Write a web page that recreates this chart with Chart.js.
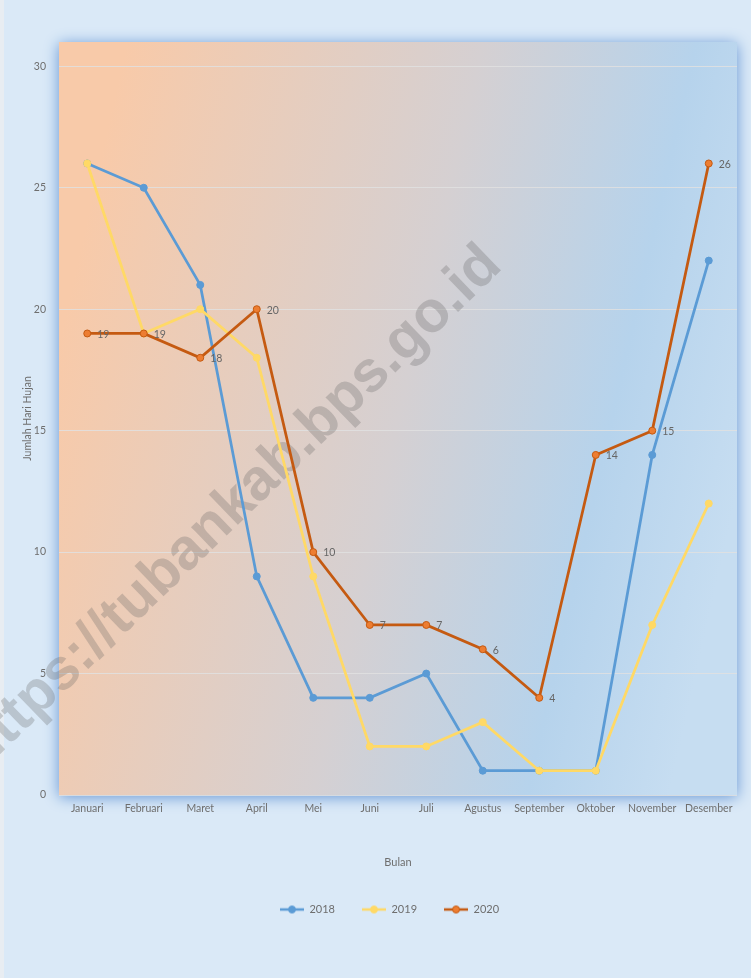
<!DOCTYPE html>
<html>
<head>
<meta charset="utf-8">
<script src="https://cdn.jsdelivr.net/npm/chart.js@4.4.1/dist/chart.umd.min.js"></script>
<style>
html,body{margin:0;padding:0;background:#d9e8f7;}
#wrap{width:751px;height:978px;position:relative;}
canvas{display:block;}
</style>
</head>
<body>
<div id="wrap"><canvas id="c" width="751" height="978"></canvas></div>
<script>
// ---- data ----
const months = ['Januari','Februari','Maret','April','Mei','Juni','Juli','Agustus','September','Oktober','November','Desember'];
const rain2018 = [26,25,21,9,4,4,5,1,1,1,14,22];
const rain2019 = [26,19,20,18,9,2,2,3,1,1,7,12];
const rain2020 = [19,19,18,20,10,7,7,6,4,14,15,26];
const seriesNames = ['2018','2019','2020'];
const yTicks = [0,5,10,15,20,25,30];
const xTitle = 'Bulan';
const yTitle = 'Jumlah Hari Hujan';
const watermark = 'https://tubankab.bps.go.id';

const FONT = 'Lato, "Open Sans", sans-serif';
const TXT = '#6e6e6e';

function makeIcon(lineColor, fill, border){
  const cv = document.createElement('canvas');
  cv.width = 24; cv.height = 10;
  const g = cv.getContext('2d');
  g.strokeStyle = lineColor; g.lineWidth = 2.5;
  g.beginPath(); g.moveTo(0,5); g.lineTo(24,5); g.stroke();
  g.fillStyle = fill; g.strokeStyle = border; g.lineWidth = 1;
  g.beginPath(); g.arc(12,5,3.5,0,Math.PI*2); g.fill(); g.stroke();
  return cv;
}
const icons = [
  makeIcon('#5b9bd5','#5b9bd5','#5b9bd5'),
  makeIcon('#ffd966','#ffd966','#ffd966'),
  makeIcon('#c55a11','#ed7d31','#c55a11')
];

const bgPlugin = {
  id: 'bg',
  beforeDraw(chart){
    const {ctx, chartArea: a, width, height} = chart;
    // shift the legend block to the right, as in the original
    if (chart.legend && !chart.legend._shifted) {
      chart.legend.left += 21; chart.legend.right += 21;
      chart.legend._shifted = true;
    }
    ctx.save();
    ctx.fillStyle = '#dae9f7';
    ctx.fillRect(0,0,width,height);
    ctx.fillStyle = '#e8edf2';
    ctx.fillRect(0,0,4,height);
    // plot box
    const g = ctx.createLinearGradient(a.left, a.top + 300, a.right, a.bottom - 300);
    g.addColorStop(0, '#f8caa9');
    g.addColorStop(0.5, '#d5d0d2');
    g.addColorStop(0.8, '#b6d3ec');
    g.addColorStop(1, '#c6ddf1');
    ctx.shadowColor = 'rgba(60,120,200,0.75)';
    ctx.shadowBlur = 14;
    ctx.shadowOffsetY = 2;
    ctx.fillStyle = g;
    ctx.fillRect(a.left, a.top, a.right - a.left, a.bottom - a.top);
    ctx.restore();
  },
  beforeDatasetsDraw(chart){
    const ctx = chart.ctx;
    ctx.save();
    ctx.translate(232, 508);
    ctx.rotate(-44 * Math.PI / 180);
    ctx.font = 'bold 58px "Liberation Sans", Arial, sans-serif';
    ctx.textAlign = 'center';
    ctx.textBaseline = 'middle';
    ctx.fillStyle = 'rgba(95,95,95,0.27)';
    ctx.fillText(watermark, 0, 0);
    ctx.restore();
  },
  afterDatasetsDraw(chart){
    const ctx = chart.ctx;
    const meta = chart.getDatasetMeta(2);
    ctx.save();
    ctx.font = '10.5px ' + FONT;
    ctx.fillStyle = '#666666';
    ctx.textAlign = 'left';
    ctx.textBaseline = 'middle';
    meta.data.forEach((pt, i) => {
      ctx.fillText(String(rain2020[i]), pt.x + 10, pt.y + 1);
    });
    ctx.restore();
  }
};

new Chart(document.getElementById('c'), {
  type: 'line',
  data: {
    labels: months,
    datasets: [
      {label: seriesNames[0], data: rain2018, borderColor:'#5b9bd5', backgroundColor:'#5b9bd5', pointBackgroundColor:'#5b9bd5', pointBorderColor:'#5b9bd5', borderWidth:2.75, pointRadius:3.5, pointBorderWidth:1, tension:0, order:3},
      {label: seriesNames[1], data: rain2019, borderColor:'#ffd966', backgroundColor:'#ffd966', pointBackgroundColor:'#ffd966', pointBorderColor:'#ffd966', borderWidth:2.75, pointRadius:3.5, pointBorderWidth:1, tension:0, order:2},
      {label: seriesNames[2], data: rain2020, borderColor:'#c55a11', backgroundColor:'#ed7d31', pointBackgroundColor:'#ed7d31', pointBorderColor:'#c55a11', borderWidth:2.75, pointRadius:3.5, pointBorderWidth:1, tension:0, order:1}
    ]
  },
  options: {
    responsive: false,
    animation: false,
    layout: {padding: {left:0, right:14, top:42, bottom:53}},
    plugins: {
      tooltip: {enabled:false},
      legend: {
        position: 'bottom',
        labels: {
          usePointStyle: true,
          pointStyleWidth: 24,
          padding: 27,
          color: TXT,
          font: {family: FONT, size: 11},
          generateLabels(chart){
            return chart.data.datasets.map((ds, i) => ({
              text: ds.label, pointStyle: icons[i], fillStyle: ds.backgroundColor,
              strokeStyle: ds.borderColor, lineWidth: 0, hidden: false, datasetIndex: i, fontColor: TXT
            }));
          }
        }
      }
    },
    scales: {
      x: {
        offset: true,
        grid: {display:false, drawTicks:false},
        border: {display:false},
        ticks: {color: TXT, font: {family: FONT, size: 10.5}, padding: 7, maxRotation:0, autoSkip:false},
        title: {display:true, text: xTitle, color: TXT, font: {family: FONT, size: 11}, padding: {top:0, bottom:8}},
        afterFit(s){ s.height = 82; }
      },
      y: {
        min: 0, max: 31,
        grid: {color:'rgba(225,225,225,0.85)', lineWidth:1, drawTicks:false},
        border: {display:false},
        ticks: {stepSize:5, color: TXT, font: {family: FONT, size: 10.5}, padding: 13},
        afterBuildTicks(s){ s.ticks = yTicks.map(v => ({value: v})); },
        title: {display:true, text: yTitle, color: TXT, font: {family: FONT, size: 10.5}, padding: {top:21, bottom:0}},
        afterFit(s){ s.width = 59; }
      }
    }
  },
  plugins: [bgPlugin]
});
</script>
</body>
</html>
